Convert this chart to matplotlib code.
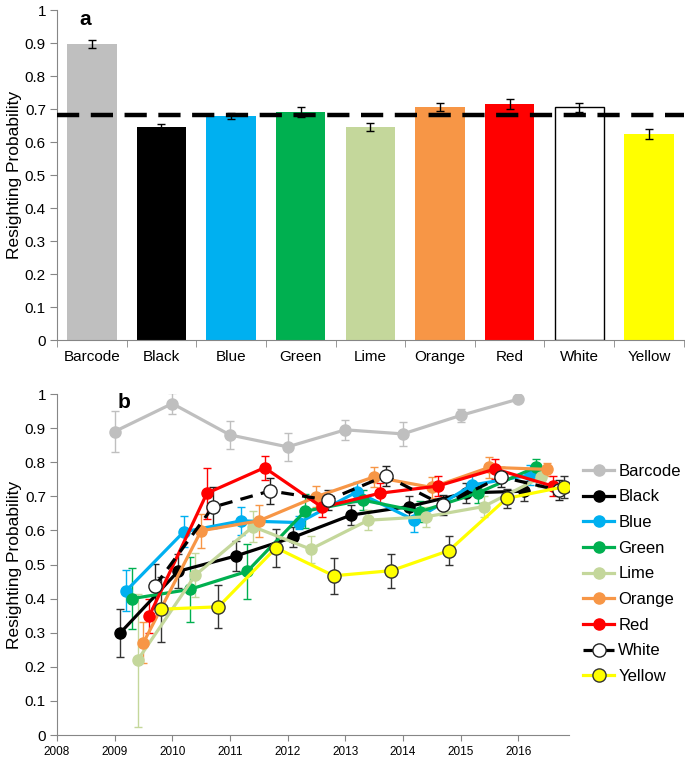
import matplotlib
matplotlib.use("Agg")
import matplotlib.pyplot as plt
import numpy as np
from matplotlib.ticker import FuncFormatter

plt.rcParams['font.family'] = ['Liberation Sans', 'DejaVu Sans']

# panel a: overall resighting probability per band colour
categories = ['Barcode', 'Black', 'Blue', 'Green', 'Lime', 'Orange', 'Red', 'White', 'Yellow']
bar_values = [0.898, 0.645, 0.679, 0.690, 0.646, 0.705, 0.714, 0.705, 0.624]
bar_errors = [0.012, 0.011, 0.010, 0.015, 0.013, 0.012, 0.015, 0.013, 0.016]
overall_mean = 0.681

# panel b: yearly estimates (x = year, offset per colour as in the figure)
barcode_x = [2009.0, 2010.0, 2011.0, 2012.0, 2013.0, 2014.0, 2015.0, 2016.0]
barcode_y = [0.89, 0.972, 0.88, 0.845, 0.895, 0.883, 0.937, 0.985]
barcode_e = [0.06, 0.03, 0.04, 0.04, 0.03, 0.035, 0.02, 0.0]

black_x = [2009.1, 2010.1, 2011.1, 2012.1, 2013.1, 2014.1, 2015.1, 2016.1]
black_y = [0.30, 0.48, 0.525, 0.58, 0.645, 0.67, 0.71, 0.715]
black_e = [0.07, 0.05, 0.043, 0.03, 0.03, 0.03, 0.03, 0.03]

blue_x = [2009.2, 2010.2, 2011.2, 2012.2, 2013.2, 2014.2, 2015.2, 2016.2]
blue_y = [0.423, 0.596, 0.628, 0.623, 0.713, 0.63, 0.733, 0.762]
blue_e = [0.06, 0.045, 0.04, 0.02, 0.03, 0.035, 0.03, 0.03]

green_x = [2009.3, 2010.3, 2011.3, 2012.3, 2013.3, 2014.3, 2015.3, 2016.3]
green_y = [0.40, 0.427, 0.48, 0.656, 0.689, 0.655, 0.71, 0.785]
green_e = [0.09, 0.095, 0.08, 0.05, 0.03, 0.03, 0.03, 0.025]

lime_x = [2009.4, 2010.4, 2011.4, 2012.4, 2013.4, 2014.4, 2015.4, 2016.4]
lime_y = [0.22, 0.469, 0.611, 0.545, 0.63, 0.64, 0.67, 0.756]
lime_e = [0.195, 0.065, 0.045, 0.04, 0.03, 0.03, 0.03, 0.03]

orange_x = [2009.5, 2010.5, 2011.5, 2012.5, 2013.5, 2014.5, 2015.5, 2016.5]
orange_y = [0.271, 0.599, 0.628, 0.699, 0.757, 0.726, 0.785, 0.779]
orange_e = [0.06, 0.05, 0.047, 0.03, 0.03, 0.03, 0.03, 0.02]

red_x = [2009.6, 2010.6, 2011.6, 2012.6, 2013.6, 2014.6, 2015.6, 2016.6]
red_y = [0.349, 0.709, 0.784, 0.668, 0.709, 0.73, 0.78, 0.73]
red_e = [0.05, 0.075, 0.035, 0.03, 0.03, 0.03, 0.03, 0.03]

white_x = [2009.7, 2010.7, 2011.7, 2012.7, 2013.7, 2014.7, 2015.7, 2016.7]
white_y = [0.437, 0.668, 0.716, 0.689, 0.76, 0.674, 0.757, 0.718]
white_e = [0.065, 0.06, 0.038, 0.03, 0.03, 0.03, 0.03, 0.03]

yellow_x = [2009.8, 2010.8, 2011.8, 2012.8, 2013.8, 2014.8, 2015.8, 2016.8]
yellow_y = [0.369, 0.376, 0.549, 0.467, 0.482, 0.541, 0.694, 0.728]
yellow_e = [0.095, 0.063, 0.055, 0.052, 0.05, 0.042, 0.028, 0.032]

year_ticks = [2008, 2009, 2010, 2011, 2012, 2013, 2014, 2015, 2016]

colors = {'Barcode': '#BFBFBF', 'Black': '#000000', 'Blue': '#00B0F0', 'Green': '#00B050',
          'Lime': '#C4D79B', 'Orange': '#F79646', 'Red': '#FF0000', 'White': '#FFFFFF',
          'Yellow': '#FFFF00'}
spine_col = '#868686'
fmt = FuncFormatter(lambda v, p: f"{v:g}")

fig = plt.figure(figsize=(6.85, 7.58), dpi=100)

# ---------- panel a ----------
ax = fig.add_axes([0.0832, 0.5514, 0.915, 0.4354])
xs = np.arange(len(categories))
ax.bar(xs, bar_values, width=0.71, color=[colors[c] for c in categories],
       edgecolor=['none'] * 7 + ['black', 'none'], linewidth=1.0, zorder=2)
ax.errorbar(xs, bar_values, yerr=bar_errors, fmt='none', ecolor='black',
            elinewidth=1.0, capsize=3, capthick=1.0, zorder=3)
ax.axhline(overall_mean, color='black', lw=3.2, ls=(0, (5, 2.6)), zorder=4)
ax.set_xlim(-0.5, len(categories) - 0.5)
ax.set_ylim(0, 1)
ax.set_yticks(np.arange(0, 1.01, 0.1))
ax.yaxis.set_major_formatter(fmt)
ax.set_xticks(xs)
ax.set_xticklabels(categories, fontsize=11)
ax.set_xticks(np.arange(-0.5, len(categories), 1), minor=True)
ax.tick_params(axis='x', which='major', length=0, pad=7)
ax.tick_params(axis='x', which='minor', length=5, color=spine_col)
ax.tick_params(axis='y', length=5, color=spine_col, labelsize=11, pad=3)
for s in ['top', 'right']:
    ax.spines[s].set_visible(False)
for s in ['left', 'bottom']:
    ax.spines[s].set_color(spine_col)
ax.set_ylabel('Resighting Probability', fontsize=12.5, labelpad=2)
ax.text(0.035, 0.955, 'a', transform=ax.transAxes, fontsize=15, fontweight='bold')

# ---------- panel b ----------
bx = fig.add_axes([0.0832, 0.0303, 0.7474, 0.4499])
series = [
    ('Barcode', barcode_x, barcode_y, barcode_e),
    ('Black', black_x, black_y, black_e),
    ('Blue', blue_x, blue_y, blue_e),
    ('Green', green_x, green_y, green_e),
    ('Lime', lime_x, lime_y, lime_e),
    ('Orange', orange_x, orange_y, orange_e),
    ('Red', red_x, red_y, red_e),
    ('White', white_x, white_y, white_e),
    ('Yellow', yellow_x, yellow_y, yellow_e),
]
for i, (name, x, y, e) in enumerate(series):
    c = colors[name]
    if name == 'White':
        line_c, ls, mfc, mec, ms, ecol = 'black', (0, (4, 2.6)), 'white', '#222222', 9.5, '#222222'
    elif name == 'Yellow':
        line_c, ls, mfc, mec, ms, ecol = c, '-', c, '#333333', 9.5, '#333333'
    else:
        line_c, ls, mfc, mec, ms, ecol = c, '-', c, c, 8, c
    if name == 'Black':
        ecol = '#333333'
    bx.errorbar(x, y, yerr=e, fmt='none', ecolor=ecol, elinewidth=1.0,
                capsize=3, capthick=1.0, zorder=2 + i * 0.1)
    bx.plot(x, y, color=line_c, ls=ls, lw=2.3, marker='o', ms=ms, mfc=mfc,
            mec=mec, mew=1.0, label=name, zorder=3 + i * 0.1)

bx.set_xlim(2008, 2016.88)
bx.set_ylim(0, 1)
bx.set_xticks(year_ticks)
bx.set_xticklabels([str(t) for t in year_ticks], fontsize=8.5)
bx.set_yticks(np.arange(0, 1.01, 0.1))
bx.yaxis.set_major_formatter(fmt)
bx.tick_params(axis='x', length=4, color=spine_col, pad=4)
bx.tick_params(axis='y', length=5, color=spine_col, labelsize=11, pad=3)
for s in ['top', 'right']:
    bx.spines[s].set_visible(False)
for s in ['left', 'bottom']:
    bx.spines[s].set_color(spine_col)
bx.set_ylabel('Resighting Probability', fontsize=12.5, labelpad=2)
bx.text(0.118, 0.96, 'b', transform=bx.transAxes, fontsize=15, fontweight='bold')
bx.legend(loc='upper left', bbox_to_anchor=(1.015, 0.815), frameon=False, fontsize=12,
          handlelength=1.85, handletextpad=0.25, labelspacing=0.64, borderaxespad=0)

fig.savefig('out.png', dpi=100)
